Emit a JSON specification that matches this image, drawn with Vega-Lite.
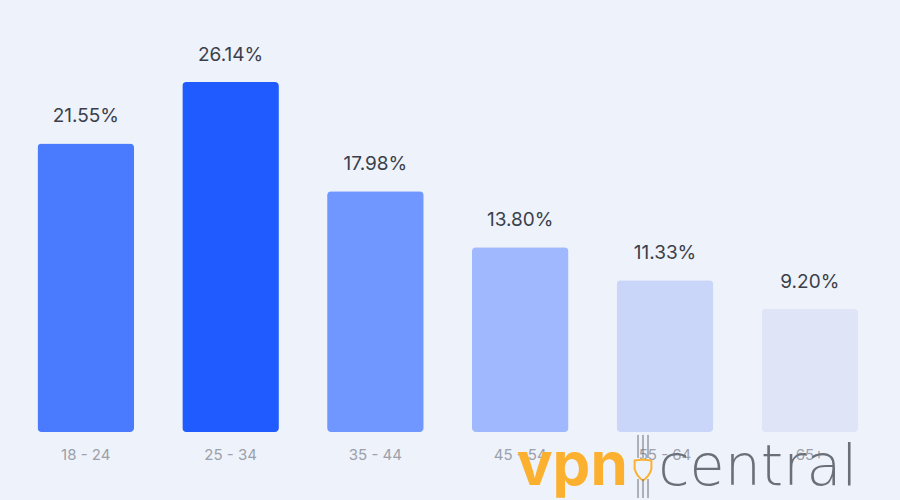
{
  "$schema": "https://vega.github.io/schema/vega-lite/v6.json",
  "description": "Share of users by age group.",
  "background": "#eef2fb",
  "autosize": "none",
  "width": 869,
  "height": 432,
  "padding": {"left": 13.3, "right": 17.7, "top": 0, "bottom": 68},
  "view": {"stroke": null},
  "datasets": {
    "ages": [
      {"age": "18 - 24", "share": 21.55, "label": "21.55%"},
      {"age": "25 - 34", "share": 26.14, "label": "26.14%"},
      {"age": "35 - 44", "share": 17.98, "label": "17.98%"},
      {"age": "45 - 54", "share": 13.80, "label": "13.80%"},
      {"age": "55 - 64", "share": 11.33, "label": "11.33%"},
      {"age": "65+", "share": 9.20, "label": "9.20%"}
    ],
    "logo": [
      {"age": "45 - 54", "pos": -3.96, "word": "vpn"},
      {"age": "65+", "pos": -3.96, "word": "central"}
    ],
    "shield": [
      {"age": "55 - 64", "pos": -2.84}
    ],
    "strokes": [
      {"age": "55 - 64", "from": -0.22, "to": -1.94},
      {"age": "55 - 64", "from": -3.51, "to": -4.93}
    ]
  },
  "encoding": {
    "x": {
      "field": "age",
      "type": "nominal",
      "sort": null,
      "title": null,
      "scale": {"domain": ["18 - 24", "25 - 34", "35 - 44", "45 - 54", "55 - 64", "65+"], "paddingInner": 0.333, "paddingOuter": 0.167},
      "axis": {
        "labelAngle": 0,
        "domain": false,
        "ticks": false,
        "labelPadding": 15,
        "labelFontSize": 15,
        "labelFont": "Inter",
        "labelColor": "#9ba0a9"
      }
    },
    "y": {
      "field": "share",
      "type": "quantitative",
      "scale": {"domain": [0, 32.26]},
      "axis": null
    }
  },
  "layer": [
    {
      "data": {"name": "ages"},
      "mark": {"type": "bar", "cornerRadius": 4},
      "encoding": {
        "color": {
          "field": "age",
          "type": "nominal",
          "legend": null,
          "scale": {
            "domain": ["18 - 24", "25 - 34", "35 - 44", "45 - 54", "55 - 64", "65+"],
            "range": ["#4a7bff", "#1f5bff", "#7096ff", "#a0b8fd", "#cad6f9", "#dfe5f7"]
          }
        }
      }
    },
    {
      "data": {"name": "ages"},
      "mark": {"type": "text", "baseline": "bottom", "dy": -17, "fontSize": 19, "font": "Inter", "color": "#3a3f4a"},
      "encoding": {
        "text": {"field": "label"}
      }
    },
    {
      "data": {"name": "logo"},
      "transform": [{"filter": "datum.word === 'vpn'"}],
      "mark": {"type": "text", "baseline": "alphabetic", "fontSize": 60, "fontWeight": "bold", "font": "Inter", "color": "#fbb12f", "dx": 52, "clip": false},
      "encoding": {
        "y": {"field": "pos", "type": "quantitative"},
        "text": {"field": "word"}
      }
    },
    {
      "data": {"name": "logo"},
      "transform": [{"filter": "datum.word === 'central'"}],
      "mark": {"type": "text", "baseline": "alphabetic", "fontSize": 57, "fontWeight": 200, "font": "DejaVu Sans", "color": "#6b7078", "dx": -52, "clip": false},
      "encoding": {
        "y": {"field": "pos", "type": "quantitative"},
        "text": {"field": "word"}
      }
    },
    {
      "data": {"name": "shield"},
      "mark": {"type": "point", "shape": "M-0.8,-0.9 L0,-1 L0.8,-0.9 L0.8,-0.1 Q0.6,0.6 0,1 Q-0.6,0.6 -0.8,-0.1 Z", "size": 440, "filled": false, "stroke": "#fbb12f", "strokeWidth": 2, "opacity": 1, "xOffset": -22, "clip": false},
      "encoding": {
        "y": {"field": "pos", "type": "quantitative"}
      }
    },
    {
      "data": {"name": "strokes"},
      "mark": {"type": "rule", "xOffset": -27, "color": "#6b7078", "strokeWidth": 1, "clip": false},
      "encoding": {
        "y": {"field": "from", "type": "quantitative"},
        "y2": {"field": "to"}
      }
    },
    {
      "data": {"name": "strokes"},
      "mark": {"type": "rule", "xOffset": -22, "color": "#6b7078", "strokeWidth": 1, "clip": false},
      "encoding": {
        "y": {"field": "from", "type": "quantitative"},
        "y2": {"field": "to"}
      }
    },
    {
      "data": {"name": "strokes"},
      "mark": {"type": "rule", "xOffset": -17, "color": "#6b7078", "strokeWidth": 1, "clip": false},
      "encoding": {
        "y": {"field": "from", "type": "quantitative"},
        "y2": {"field": "to"}
      }
    }
  ]
}
